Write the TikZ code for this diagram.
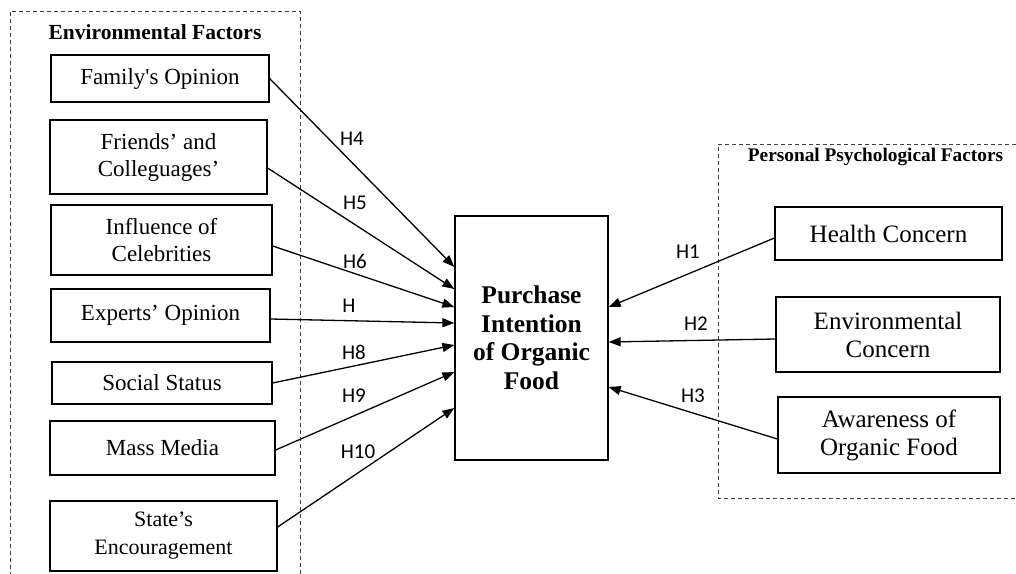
\documentclass[tikz,border=0pt]{standalone}
\usepackage{fontspec}
\setmainfont{Liberation Serif}
\newfontfamily\hfont{Carlito}
\usetikzlibrary{arrows.meta}
\tikzset{
  box/.style={draw, line width=1.2pt, align=center, inner sep=2pt, font=\fontsize{23}{27}\selectfont},
  rbox/.style={box, font=\fontsize{25}{28}\selectfont},
  central/.style={draw, line width=1.3pt, align=center, font=\fontsize{25.5}{28.5}\selectfont\bfseries},
  grp/.style={draw, dashed, line width=0.9pt, dash pattern=on 4pt off 3pt, black!75},
  grptitle/.style={font=\bfseries, inner sep=0pt},
  arr/.style={line width=1.3pt, -{Triangle[length=12pt,width=9pt]}},
  hlab/.style={font=\hfont\fontsize{21}{22}\selectfont, inner sep=0pt},
}
\begin{document}
\begin{tikzpicture}[x=1pt,y=-1pt]
\useasboundingbox (0,0) rectangle (1016,573);
% group frames
\draw[grp] (10,590) -- (10,11) -- (300,11) -- (300,590);
\draw[grp] (1030,144) -- (718,144) -- (718,498) -- (1030,498);
\node[grptitle, font=\fontsize{21.5}{22}\selectfont\bfseries] (t1) at (155,32) {Environmental Factors};
\node[grptitle, font=\fontsize{19.3}{20}\selectfont\bfseries] (t2) at (875.5,157) {Personal Psychological Factors};
% left boxes
\node[box, minimum width=218pt, minimum height=47pt] (fam) at (160,78.5) {Family\textquotesingle s Opinion};
\node[box, minimum width=217pt, minimum height=74pt] (fri) at (158.5,157) {Friends’ and\\Colleguages’};
\node[box, minimum width=221pt, minimum height=70pt] (inf) at (161.5,240) {Influence of\\Celebrities};
\node[box, minimum width=219pt, minimum height=53pt] (exp) at (160.5,315.5) {Experts’ Opinion};
\node[box, minimum width=220pt, minimum height=42pt] (soc) at (162,383) {Social Status};
\node[box, minimum width=225pt, minimum height=54pt] (mass) at (162.5,448) {Mass Media};
\node[box, minimum width=227pt, minimum height=70pt, font=\fontsize{22}{28}\selectfont] (state) at (163.5,536) {State’s\\Encouragement};
% central box
\node[central, minimum width=153pt, minimum height=244pt] (pi) at (531.5,338) {Purchase\\Intention\\of Organic\\Food};
% right boxes
\node[rbox, minimum width=227pt, minimum height=53pt] (hc) at (888.5,233.5) {Health Concern};
\node[rbox, minimum width=224pt, minimum height=75pt] (ec) at (888,334.5) {Environmental\\Concern};
\node[rbox, minimum width=222pt, minimum height=76pt] (aw) at (889,435) {Awareness of\\Organic Food};
% arrows left
\draw[arr] (fam.east) -- ([yshift=71pt]pi.west);
\draw[arr] ([yshift=-11pt]fri.east) -- ([yshift=49pt]pi.west);
\draw[arr] ([yshift=-6pt]inf.east) -- ([yshift=31pt]pi.west);
\draw[arr] ([yshift=-3.5pt]exp.east) -- ([yshift=15pt]pi.west);
\draw[arr] (soc.east) -- ([yshift=-7pt]pi.west);
\draw[arr] ([yshift=-2pt]mass.east) -- ([yshift=-34pt]pi.west);
\draw[arr] ([yshift=9pt]state.east) -- ([yshift=-70pt]pi.west);
% arrows right
\draw[arr] ([yshift=-4.5pt]hc.west) -- ([yshift=31pt]pi.east);
\draw[arr] ([yshift=-4.5pt]ec.west) -- ([yshift=-4pt]pi.east);
\draw[arr] ([yshift=-4pt]aw.west) -- ([yshift=-49pt]pi.east);
% labels
\node[hlab] (h4) at (352,139) {H4};
\node[hlab] (h5) at (355,203) {H5};
\node[hlab] (h6) at (355,261) {H6};
\node[hlab] (h7) at (349,306) {H};
\node[hlab] (h8) at (354,352) {H8};
\node[hlab] (h9) at (354,396) {H9};
\node[hlab] (h10) at (358,452) {H10};
\node[hlab] (h1) at (688,252) {H1};
\node[hlab] (h2) at (696,324) {H2};
\node[hlab] (h3) at (693,396) {H3};
\end{tikzpicture}
\end{document}
